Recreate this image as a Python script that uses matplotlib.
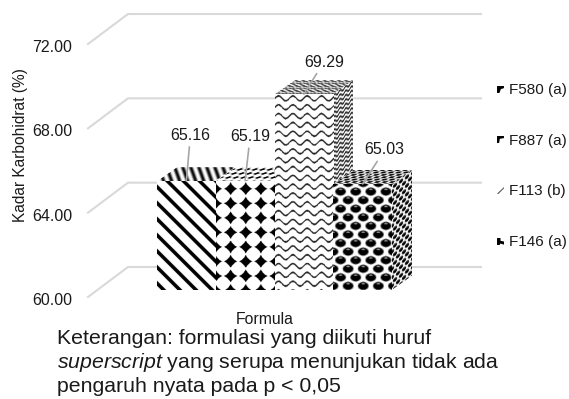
import numpy as np
import matplotlib
matplotlib.use("Agg")
import matplotlib.pyplot as plt
from matplotlib.lines import Line2D
from matplotlib.patches import Polygon
from matplotlib.transforms import Affine2D

plt.rcParams["font.family"] = ["Liberation Sans", "DejaVu Sans"]
plt.rcParams["mathtext.fontset"] = "custom"
plt.rcParams["mathtext.it"] = "Liberation Sans:italic"
plt.rcParams["mathtext.rm"] = "Liberation Sans"

# Data
formulas = ["F580 (a)", "F887 (a)", "F113 (b)", "F146 (a)"]
carbohydrate = [65.16, 65.19, 69.29, 65.03]
axis_ticks = [60, 64, 68, 72]
tick_labels = ["60.00", "64.00", "68.00", "72.00"]

# Layout in pixels
W, H = 569, 399
DPI = 100
BAR_LEFT, BAR_RIGHT = 157, 392
BASE_Y, TOP_Y = 290, 37
DEPTH_DX, DEPTH_DY = 20, 14      # depth of a column
WALL_DY = 23                     # back wall height relative to the column faces
FLOOR_DX, FLOOR_DY = -40, -30    # front floor edge relative to the back wall
WALL_LEFT, WALL_RIGHT = 128, 481
TEX_SCALE = 0.5                  # receding faces show the fill at half size
TEX_DEPTH = 50
LABEL_OFFSETS = [(4, 46), (5, 44), (20, 32), (22, 34)]
LEGEND_MARKS = [
    [(-1, -1), (-1, 1), (1, 1), (1, 0.4), (0.1, 0.1), (-0.3, -1)],
    [(-1, -1), (-1, 1), (1, 1), (1, 0.4), (-0.2, 0.2), (-0.4, -1)],
    [(-1, -0.9), (1, 1), (1, 0.6), (-0.6, -1)],
    [(-1, -1), (-1, 1), (0, 1), (0, 0.2), (1, 0), (1, -0.9), (-0.1, -0.6), (-0.2, -1)],
]


# Fill textures: grey levels in 0..1 on a grid with y running downwards
def grid(w, h, ss=2):
    ys, xs = np.mgrid[0:int(h * ss), 0:int(w * ss)]
    return (xs + 0.5) / ss, (ys + 0.5) / ss


def tex_stripes(w, h, heavy=False):
    x, y = grid(w, h)
    return np.where(np.mod(x - y + 8, 16) < (7.0 if heavy else 4.6), 0.0, 1.0)


def tex_diamonds(w, h, heavy=False):
    x, y = grid(w, h)
    dx = np.mod(x - 7.0, 15.0) - 7.5
    dy = np.mod(y - 1.5, 14.4) - 7.2
    return np.where(np.abs(dx) ** 0.75 + np.abs(dy) ** 0.75 < 6.8 ** 0.75, 0.0, 1.0)


def tex_waves(w, h, heavy=False):
    x, y = grid(w, h)
    phase = y + 2.4 * np.sin(2 * np.pi * x / 14.2)
    dist = np.abs(np.mod(phase, 8.8) - 4.4)
    return np.where(dist < (2.1 if heavy else 0.9), 0.15, 1.0)


def tex_bubbles(w, h, heavy=False):
    x, y = grid(w, h)
    img = np.ones_like(x)
    for ox, oy in [(0.0, 0.0), (7.5, 8.5)]:
        dx = np.mod(x - ox, 15.0) - 7.5
        dy = np.mod(y - oy, 17.0) - 8.5
        img[dx ** 2 / 5.6 ** 2 + dy ** 2 / 4.3 ** 2 < 1] = 0.5
        img[dx ** 2 / 4.8 ** 2 + dy ** 2 / 3.6 ** 2 < 1] = 0.0
        img[(dx ** 2 / 2.0 ** 2 + (dy + 2.2) ** 2 / 0.7 ** 2 < 1)] = 0.55
    return img


textures = [tex_stripes, tex_diamonds, tex_waves, tex_bubbles]

fig = plt.figure(figsize=(W / DPI, H / DPI), dpi=DPI, facecolor="white")
ax = fig.add_axes([BAR_LEFT / W, (H - BASE_Y) / H,
                   (BAR_RIGHT - BAR_LEFT) / W, (BASE_Y - TOP_Y) / H])
ax.set_xlim(-0.5, len(formulas) - 0.5)
ax.set_ylim(60, 72)
ax.set_facecolor("none")
for s in ax.spines.values():
    s.set_visible(False)

px_x = (BAR_RIGHT - BAR_LEFT) / len(formulas)
px_y = (BASE_Y - TOP_Y) / (72 - 60)


def shifted(x, v, dx_px, dy_px):
    return x + dx_px / px_x, v + dy_px / px_y


# Back wall gridlines with their slanted floor returns
for tick in axis_ticks:
    xb, yb = shifted(-0.5, tick, WALL_LEFT - BAR_LEFT, WALL_DY)
    xr, _ = shifted(-0.5, tick, WALL_RIGHT - BAR_LEFT, WALL_DY)
    xf, yf = shifted(xb, yb, FLOOR_DX, FLOOR_DY)
    ax.plot([xf, xb, xr], [yf, yb, yb], color="#d9d9d9", lw=1.5,
            clip_on=False, zorder=1, solid_joinstyle="miter")


def paint(img, matrix, w, h, zorder, clip_patch):
    """Paint a texture through an affine map and clip it to a patch."""
    im = ax.imshow(img, cmap="gray", vmin=0, vmax=1, origin="upper",
                   extent=(0, w, 0, h), aspect="auto", interpolation="hanning",
                   transform=Affine2D(matrix), zorder=zorder)
    im.set_clip_box(fig.bbox)
    im.set_clip_path(clip_patch)
    return im


def receding_face(func, verts_data, matrix, w, h, zorder):
    face = Polygon(verts_data, closed=True, fc="white", ec="none", zorder=zorder,
                   clip_on=False)
    ax.add_patch(face)
    paint(func(w, h, heavy=True), matrix, w, h, zorder + 0.1, face)


ax.set_xlim(-0.5, len(formulas) - 0.5)
ax.set_ylim(60, 72)
fig.canvas.draw()

positions = np.arange(len(formulas))
bars = ax.bar(positions, np.array(carbohydrate) - 60, bottom=60, width=1.0,
              color="white", linewidth=0, zorder=2)

for i, (x, val, func) in enumerate(zip(positions, carbohydrate, textures)):
    base_z = 2 + i * 2
    x0, x1 = x - 0.5, x + 0.5
    bars[i].set_zorder(base_z + 0.5)
    ox0, oy0 = ax.transData.transform((x0, 60))
    ox1, oy1 = ax.transData.transform((x1, val))
    w, h = ox1 - ox0, oy1 - oy0
    dx, dv = DEPTH_DX / px_x, DEPTH_DY / px_y

    # side face
    side = [(x1, 60), (x1 + dx, 60 + dv), (x1 + dx, val + dv), (x1, val)]
    m_side = [[DEPTH_DX / TEX_DEPTH, 0, ox1],
              [DEPTH_DY / TEX_DEPTH, TEX_SCALE, oy0],
              [0, 0, 1]]
    receding_face(func, side, m_side, TEX_DEPTH, h / TEX_SCALE, base_z)

    # top face
    top = [(x0, val), (x1, val), (x1 + dx, val + dv), (x0 + dx, val + dv)]
    m_top = [[TEX_SCALE, DEPTH_DX / TEX_DEPTH, ox0],
             [0, DEPTH_DY / TEX_DEPTH, oy1],
             [0, 0, 1]]
    receding_face(func, top, m_top, w / TEX_SCALE, TEX_DEPTH, base_z)

    # front face
    paint(func(w, h), [[1, 0, ox0], [0, 1, oy0], [0, 0, 1]], w, h, base_z + 0.6, bars[i])

ax.set_xlim(-0.5, len(formulas) - 0.5)
ax.set_ylim(60, 72)

# Value labels with leader lines
for x, val, off in zip(positions, carbohydrate, LABEL_OFFSETS):
    ax.annotate(f"{val:.2f}", xy=(x, val), xytext=off, textcoords="offset pixels",
                ha="center", va="center", fontsize=11.5, color="#1a1a1a",
                annotation_clip=False, zorder=20,
                arrowprops=dict(arrowstyle="-", color="#a6a6a6", lw=1.2,
                                shrinkA=1, shrinkB=0))

# Axes text
ax.set_xticks([])
ax.set_yticks(axis_ticks)
ax.set_yticklabels(tick_labels, fontsize=11.5, color="#1a1a1a")
ax.tick_params(axis="y", length=0, pad=61)
for lab in ax.get_yticklabels():
    lab.set_transform(lab.get_transform() + Affine2D().translate(0, -9))
ax.set_ylabel("Kadar Karbohidrat (%)", fontsize=11.2, color="#1a1a1a")
ax.yaxis.set_label_coords((28 - BAR_LEFT) / (BAR_RIGHT - BAR_LEFT),
                          (BASE_Y - 145) / (BASE_Y - TOP_Y))
ax.set_xlabel("Formula", fontsize=11.3, color="#1a1a1a", labelpad=0)
ax.xaxis.set_label_coords((265 - BAR_LEFT) / (BAR_RIGHT - BAR_LEFT),
                          -(312 - BASE_Y) / (BASE_Y - TOP_Y))

# Legend
handles = [Line2D([], [], ls="none", marker=np.array(m), color="black",
                  markeredgewidth=0, markersize=5) for m in LEGEND_MARKS]
handles[2].set_color("#555555")
leg = fig.legend(handles, formulas, loc="upper left",
                 bbox_to_anchor=(495 / W, 1 - 83 / H), frameon=False, fontsize=11,
                 labelspacing=2.4, handlelength=0.7, handletextpad=0.2,
                 borderpad=0, borderaxespad=0, labelcolor="#1a1a1a")

# Note below the chart
note_lines = ["Keterangan: formulasi yang diikuti huruf",
              r"$\mathit{superscript}$ yang serupa menunjukan tidak ada",
              "pengaruh nyata pada p < 0,05"]
for line, y in zip(note_lines, [338, 362, 387]):
    fig.text(57 / W, 1 - y / H, line, fontsize=15.3, color="#1a1a1a",
             ha="left", va="center")

fig.savefig("out.png", dpi=DPI, facecolor="white")
